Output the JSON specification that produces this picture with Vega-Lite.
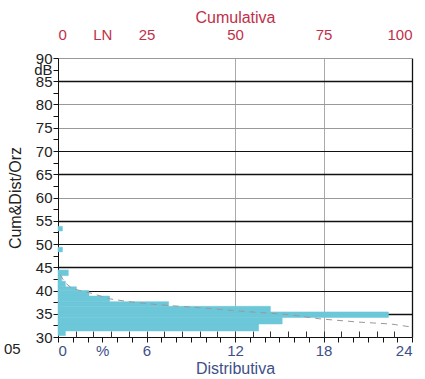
{
  "$schema": "https://vega.github.io/schema/vega-lite/v6.json",
  "width": 354,
  "height": 279,
  "autosize": "none",
  "padding": {"left": 58, "top": 58, "right": 13, "bottom": 42},
  "config": {"font": "Liberation Sans", "view": {"stroke": null}},
  "datasets": {
    "dist": [
      {"lo": 30.3, "hi": 31.3, "pct": 0.5},
      {"lo": 31.3, "hi": 32.8, "pct": 13.6},
      {"lo": 32.8, "hi": 34.2, "pct": 15.2},
      {"lo": 34.2, "hi": 35.4, "pct": 22.4},
      {"lo": 35.4, "hi": 36.6, "pct": 14.4},
      {"lo": 36.6, "hi": 37.6, "pct": 7.5},
      {"lo": 37.6, "hi": 38.8, "pct": 3.5},
      {"lo": 38.8, "hi": 40.0, "pct": 2.1},
      {"lo": 40.0, "hi": 40.8, "pct": 1.25},
      {"lo": 40.8, "hi": 42.0, "pct": 0.5},
      {"lo": 42.0, "hi": 43.2, "pct": 0.25},
      {"lo": 43.2, "hi": 44.4, "pct": 0.7},
      {"lo": 48.3, "hi": 49.3, "pct": 0.3},
      {"lo": 52.8, "hi": 53.8, "pct": 0.3}
    ],
    "cum": [
      {"lo": 43.4, "cum": 0.6},
      {"lo": 41.7, "cum": 2},
      {"lo": 40.4, "cum": 4},
      {"lo": 39.5, "cum": 9},
      {"lo": 38.2, "cum": 14.7},
      {"lo": 37.6, "cum": 20},
      {"lo": 36.9, "cum": 28.8},
      {"lo": 36.3, "cum": 40},
      {"lo": 35.6, "cum": 51},
      {"lo": 34.8, "cum": 65.5},
      {"lo": 33.9, "cum": 74},
      {"lo": 33.2, "cum": 85},
      {"lo": 32.8, "cum": 94},
      {"lo": 32.2, "cum": 99.4}
    ]
  },
  "encoding": {
    "y": {
      "field": "lo", "type": "quantitative",
      "scale": {"domain": [30, 90], "nice": false},
      "axis": {
        "values": [30,32.5,35,37.5,40,42.5,45,47.5,50,52.5,55,57.5,60,62.5,65,67.5,70,72.5,75,77.5,80,82.5,85,87.5,90],
        "labelExpr": "datum.value == 87.5 ? 'dB' : (datum.value % 5 == 0 ? datum.label : '')",
        "labelOverlap": false,
        "labelFontSize": 15,
        "labelColor": "#222",
        "labelPadding": 1,
        "tickSize": 5,
        "tickColor": "#111",
        "domainColor": "#111",
        "grid": true,
        "gridOpacity": {"condition": {"test": "datum.value % 5 != 0 || datum.value == 30", "value": 0}, "value": 1},
        "gridColor": {"condition": {"test": "indexof([60,75,80,90], datum.value) >= 0", "value": "#999"}, "value": "#111"},
        "gridWidth": {"condition": {"test": "indexof([35,45,55,65,85], datum.value) >= 0", "value": 1.6}, "value": 1},
        "title": "Cum&Dist/Orz",
        "titleColor": "#222",
        "titleFontSize": 16,
        "titleFontWeight": "normal",
        "titlePadding": 10
      }
    }
  },
  "layer": [
    {
      "data": {"name": "dist"},
      "mark": {"type": "bar", "color": "#6cc7d9", "stroke": "#6cc7d9", "strokeWidth": 0.5},
      "encoding": {
        "x": {
          "field": "pct", "type": "quantitative",
          "scale": {"domain": [0, 24], "nice": false},
          "axis": {
            "orient": "bottom",
            "values": [0,1,2,3,4,5,6,7,8,9,10,11,12,13,14,15,16,17,18,19,20,21,22,23,24],
            "labelExpr": "datum.value == 3 ? '%' : (datum.value % 6 == 0 ? datum.label : '')",
            "labelOverlap": false,
            "labelFontSize": 15,
            "labelColor": "#3e4f88",
            "labelPadding": 1,
            "tickSize": 5,
            "tickColor": "#111",
            "domainColor": "#111",
            "grid": false,
            "title": "Distributiva",
            "titleColor": "#3e4f88",
            "titleFontSize": 16,
            "titleFontWeight": "normal",
            "titlePadding": 2
          }
        },
        "x2": {"datum": 0},
        "y2": {"field": "hi"}
      }
    },
    {
      "data": {"name": "cum"},
      "mark": {"type": "line", "strokeDash": [6, 5], "color": "#999", "strokeWidth": 1},
      "encoding": {
        "x": {
          "field": "cum", "type": "quantitative",
          "scale": {"domain": [0, 100], "nice": false},
          "axis": {
            "orient": "top",
            "values": [0, 12.5, 25, 50, 75, 100],
            "labelExpr": "datum.value == 12.5 ? 'LN' : datum.label",
            "labelOverlap": false,
            "labelFontSize": 15,
            "labelColor": "#c0304a",
            "labelPadding": 16,
            "ticks": false,
            "domainColor": "#999",
            "grid": true,
            "gridOpacity": {"condition": {"test": "indexof([50,75,100], datum.value) >= 0", "value": 1}, "value": 0},
            "gridColor": {"condition": {"test": "datum.value == 100", "value": "#111"}, "value": "#aaa"},
            "gridWidth": {"condition": {"test": "datum.value == 100", "value": 1.3}, "value": 1},
            "title": "Cumulativa",
            "titleColor": "#c0304a",
            "titleFontSize": 16,
            "titleFontWeight": "normal",
            "titlePadding": 2
          }
        }
      }
    },
    {
      "data": {"name": "cum"},
      "mark": {"type": "line", "opacity": 0},
      "encoding": {
        "x": {
          "field": "cum", "type": "quantitative",
          "scale": {"domain": [0, 100], "nice": false},
          "axis": {
            "orient": "top",
            "offset": -279,
            "values": [5,10,15,20,25,30,35,40,45,50,55,60,65,70,75,80,85,90,95],
            "labels": false,
            "domain": false,
            "grid": false,
            "tickSize": 6,
            "tickColor": "#333",
            "title": null
          }
        }
      }
    },
    {
      "data": {"values": [{"lo": 27.4, "note": "05", "pos": -3.1}]},
      "mark": {"type": "text", "fontSize": 15, "color": "#222", "align": "center", "baseline": "middle"},
      "encoding": {
        "x": {"field": "pos", "type": "quantitative", "scale": {"domain": [0, 24], "nice": false}, "axis": null},
        "text": {"field": "note"}
      }
    }
  ],
  "resolve": {"scale": {"x": "independent"}}
}
